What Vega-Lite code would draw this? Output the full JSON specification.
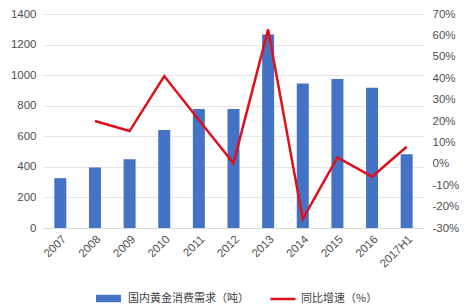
{
  "$schema": "https://vega.github.io/schema/vega-lite/v6.json",
  "width": 381,
  "height": 214,
  "autosize": {"type": "none"},
  "padding": {"left": 43, "top": 14, "right": 42, "bottom": 80},
  "background": "white",
  "config": {
    "view": {"stroke": null},
    "axis": {"labelFont": "Liberation Sans", "labelFontSize": 11.5, "labelColor": "#505050", "grid": false, "ticks": false, "domain": false, "title": null},
    "legend": {"labelFont": "Noto Sans CJK SC", "labelFontSize": 11, "labelColor": "#404040"}
  },
  "data": {"values": [
    {"year": "2007", "demand": 326, "growth": null},
    {"year": "2008", "demand": 396, "growth": 20},
    {"year": "2009", "demand": 449, "growth": 15.3},
    {"year": "2010", "demand": 641, "growth": 41},
    {"year": "2011", "demand": 778, "growth": 20.5},
    {"year": "2012", "demand": 778, "growth": 0.3},
    {"year": "2013", "demand": 1266, "growth": 62.8},
    {"year": "2014", "demand": 946, "growth": -25.9},
    {"year": "2015", "demand": 975, "growth": 3},
    {"year": "2016", "demand": 918, "growth": -6},
    {"year": "2017H1", "demand": 482, "growth": 8}
  ]},
  "encoding": {
    "x": {"field": "year", "type": "ordinal", "sort": null,
      "scale": {"paddingInner": 0.65, "paddingOuter": 0.325},
      "axis": {"labelAngle": -45, "labelPadding": 5, "domain": true, "domainColor": "#D9D9D9"}}
  },
  "layer": [
    {
      "mark": {"type": "bar", "size": 12},
      "encoding": {
        "y": {"field": "demand", "type": "quantitative",
          "scale": {"domain": [0, 1400]},
          "axis": {"orient": "left", "values": [0, 200, 400, 600, 800, 1000, 1200, 1400], "format": "d", "grid": true, "gridColor": "#E6E6E6", "labelPadding": 7}},
        "fill": {"datum": "国内黄金消费需求（吨）", "type": "nominal",
          "scale": {"range": ["#4472C4"]},
          "legend": {"orient": "none", "legendX": 52, "legendY": 271, "symbolType": "M-1,-0.3H1V0.3H-1Z", "symbolSize": 625, "title": null, "labelOffset": 6}}
      }
    },
    {
      "mark": {"type": "line", "strokeWidth": 2.5},
      "encoding": {
        "y": {"field": "growth", "type": "quantitative",
          "scale": {"domain": [-30, 70]},
          "axis": {"orient": "right", "values": [-30, -20, -10, 0, 10, 20, 30, 40, 50, 60, 70], "labelExpr": "datum.value + '%'", "labelPadding": 8}},
        "stroke": {"datum": "同比增速（%）", "type": "nominal",
          "scale": {"range": ["#E0101A"]},
          "legend": {"orient": "none", "legendX": 226, "legendY": 271, "symbolType": "stroke", "symbolSize": 625, "symbolStrokeWidth": 2.5, "title": null, "labelOffset": 4}}
      }
    }
  ],
  "resolve": {"scale": {"y": "independent"}}
}
